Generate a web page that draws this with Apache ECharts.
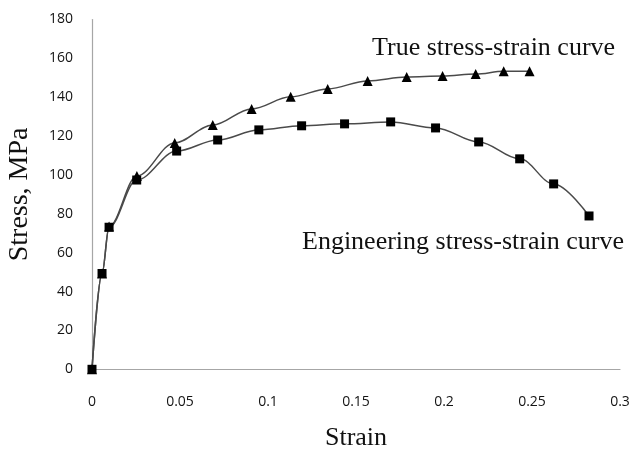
<!DOCTYPE html>
<html>
<head>
<meta charset="utf-8">
<script src="https://cdn.jsdelivr.net/npm/echarts@6/dist/echarts.min.js"></script>
<style>html,body{margin:0;padding:0;background:#fff}#c{width:632px;height:450px}</style>
</head>
<body>
<div id="c"></div>
<script>
// Engineering stress-strain curve
var engStrain = [0, 0.0057, 0.0097, 0.0254, 0.0481, 0.0714, 0.0948, 0.1191, 0.1435, 0.1697, 0.1952, 0.2197, 0.2430, 0.2623, 0.2824];
var engStress = [0, 49.3, 73.1, 97.4, 112.3, 118, 123.2, 125.3, 126.3, 127.3, 124.2, 117, 108.3, 95.4, 78.9];
// True stress-strain curve
var trueStrain = [0, 0.0057, 0.0097, 0.0255, 0.047, 0.0686, 0.0907, 0.1129, 0.1339, 0.1566, 0.1788, 0.1992, 0.218, 0.2339, 0.2486];
var trueStress = [0, 49.3, 73.5, 99.5, 116.5, 125.7, 134, 140.2, 144.3, 148.4, 150.4, 150.9, 151.9, 153.4, 153.4];
// Axis ticks
var xTicks = [0, 0.05, 0.1, 0.15, 0.2, 0.25, 0.3];
var yTicks = [0, 20, 40, 60, 80, 100, 120, 140, 160, 180];

var chart = echarts.init(document.getElementById('c'), null, {renderer: 'canvas'});
function pairs(xs, ys) { return xs.map(function (x, i) { return [x, ys[i]]; }); }
var serif = '"Liberation Serif", "Times New Roman", serif';
var sans = '"Open Sans", "Noto Sans", sans-serif';
chart.setOption({
  animation: false,
  backgroundColor: '#fff',
  grid: {left: 92, right: 12, top: 19.5, bottom: 80.7, containLabel: false, outerBoundsMode: 'none'},
  xAxis: {
    type: 'value', min: xTicks[0], max: xTicks[xTicks.length - 1], interval: 0.05,
    name: 'Strain', nameLocation: 'middle', nameGap: 56,
    nameTextStyle: {fontFamily: serif, fontSize: 26, color: '#111'},
    axisLine: {show: true, lineStyle: {color: '#a6a6a6', width: 1.2}},
    axisTick: {show: false},
    splitLine: {show: false},
    axisLabel: {fontFamily: sans, fontSize: 14, color: '#141414', margin: 26,
      formatter: function (v) { return String(+v.toFixed(2)); }}
  },
  yAxis: {
    type: 'value', min: yTicks[0], max: yTicks[yTicks.length - 1], interval: 20,
    name: 'Stress, MPa', nameLocation: 'middle', nameGap: 58, nameRotate: 90,
    nameTextStyle: {fontFamily: serif, fontSize: 28, color: '#111'},
    axisLine: {show: true, lineStyle: {color: '#a6a6a6', width: 1.2}},
    axisTick: {show: false},
    splitLine: {show: false},
    axisLabel: {fontFamily: sans, fontSize: 14, color: '#141414', margin: 19}
  },
  graphic: [
    {type: 'text', left: 372, top: 35, style: {text: 'True stress-strain curve', font: '26px ' + serif, fill: '#111'}},
    {type: 'text', left: 302, top: 229, style: {text: 'Engineering stress-strain curve', font: '26px ' + serif, fill: '#111'}}
  ],
  series: [
    {
      name: 'True stress-strain curve', type: 'line', data: pairs(trueStrain, trueStress),
      smooth: 0.35, smoothMonotone: 'x',
      symbol: 'triangle', symbolSize: 10,
      lineStyle: {color: '#4a4a4a', width: 1.5},
      itemStyle: {color: '#000'}
    },
    {
      name: 'Engineering stress-strain curve', type: 'line', data: pairs(engStrain, engStress),
      smooth: 0.35, smoothMonotone: 'x',
      symbol: 'rect', symbolSize: 9,
      lineStyle: {color: '#4a4a4a', width: 1.5},
      itemStyle: {color: '#000'}
    }
  ]
});
</script>
</body>
</html>
